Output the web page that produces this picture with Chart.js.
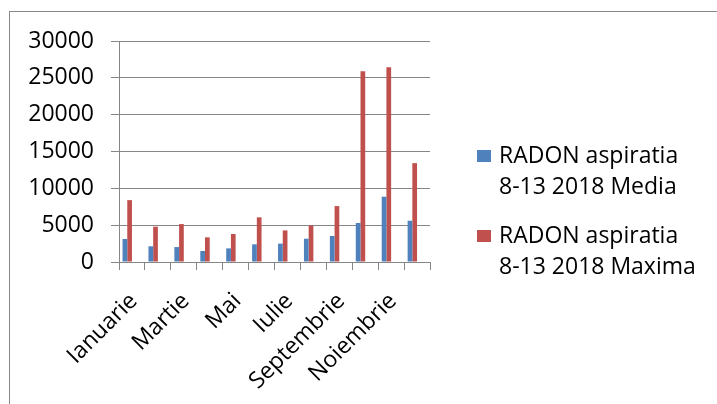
<!DOCTYPE html>
<html>
<head>
<meta charset="utf-8">
<script src="https://cdn.jsdelivr.net/npm/chart.js@4"></script>
<style>
  body { margin: 0; background: #fff; }
  #wrap { position: relative; width: 717px; height: 404px; overflow: hidden; }
  #frame { position: absolute; left: 9px; top: 11px; width: 720px; height: 400px; border: 1px solid #888; }
  #myChart { position: absolute; left: 0; top: 0; }
  #legend { position: absolute; left: 477px; top: 0; font-family: "Open Sans"; font-size: 23px; color: #000; }
  .item { position: absolute; left: 0; white-space: nowrap; line-height: 31px; }
  .box { position: absolute; left: 0; top: 11px; width: 14px; height: 12px; }
  .txt { position: absolute; left: 22px; top: 0; }
</style>
</head>
<body>
<div id="wrap">
  <div id="frame"></div>
  <canvas id="myChart" width="717" height="404"></canvas>
  <div id="legend"></div>
</div>
<script>
// values
const months = ['Ianuarie', 'Februarie', 'Martie', 'Aprilie', 'Mai', 'Iunie',
    'Iulie', 'August', 'Septembrie', 'Octombrie', 'Noiembrie', 'Decembrie'];
const media = [3120, 2130, 2030, 1490, 1850, 2400, 2490, 3160, 3530, 5290, 8860, 5600];
const maxima = [8400, 4790, 5150, 3350, 3800, 6060, 4290, 4970, 7590, 25900, 26440, 13420];
const yTicks = [0, 5000, 10000, 15000, 20000, 25000, 30000];
const seriesNames = [['RADON aspiratia', '8-13 2018 Media'], ['RADON aspiratia', '8-13 2018 Maxima']];
const colors = ['#4F81BD', '#C0504D'];

const font = { family: 'Open Sans', size: 23 };
const gridColor = '#868686';

// html legend (two-line labels like the original)
var legend = document.getElementById('legend');
var tops = [139, 219];
seriesNames.forEach(function (lines, i) {
    var item = document.createElement('div');
    item.className = 'item';
    item.style.top = tops[i] + 'px';
    item.innerHTML = '<div class="box" style="background:' + colors[i] + '"></div>' +
        '<div class="txt">' + lines.join('<br>') + '</div>';
    legend.appendChild(item);
});

const ctx = document.getElementById('myChart');
new Chart(ctx, {
    type: 'bar',
    data: {
        labels: months,
        datasets: [
            { label: seriesNames[0].join(' '), data: media, backgroundColor: colors[0] },
            { label: seriesNames[1].join(' '), data: maxima, backgroundColor: colors[1] },
            // the original keeps room for two empty series in each group
            { label: '', data: [] },
            { label: '', data: [] }
        ]
    },
    options: {
        responsive: false,
        animation: false,
        layout: { padding: { left: 9, right: 287, top: 41, bottom: 0 } },
        datasets: { bar: { categoryPercentage: 0.727, barPercentage: 1 } },
        plugins: {
            legend: { display: false },
            tooltip: { enabled: false }
        },
        scales: {
            x: {
                offset: true,
                grid: { drawOnChartArea: false, tickLength: 8, color: gridColor, offset: true },
                border: { color: gridColor },
                ticks: {
                    autoSkip: false, minRotation: 45, maxRotation: 45, padding: 2, labelOffset: -15,
                    color: '#000', font: { family: 'Open Sans', size: 23, lineHeight: 1.04 },
                    // empty first line pushes the rotated text down-right, as in the original
                    callback: function (v, i) { return i % 2 === 0 ? ['', months[i]] : ''; }
                },
                afterFit: function (s) { s.height = 142; }
            },
            y: {
                min: 0,
                max: 30000,
                afterBuildTicks: function (s) { s.ticks = yTicks.map(function (v) { return { value: v }; }); },
                grid: { color: gridColor, tickLength: 8 },
                border: { color: gridColor },
                ticks: {
                    padding: 17, color: '#000', font: font,
                    callback: function (v) { return String(v); }
                },
                afterFit: function (s) { s.width = 110; }
            }
        }
    }
});
</script>
</body>
</html>
